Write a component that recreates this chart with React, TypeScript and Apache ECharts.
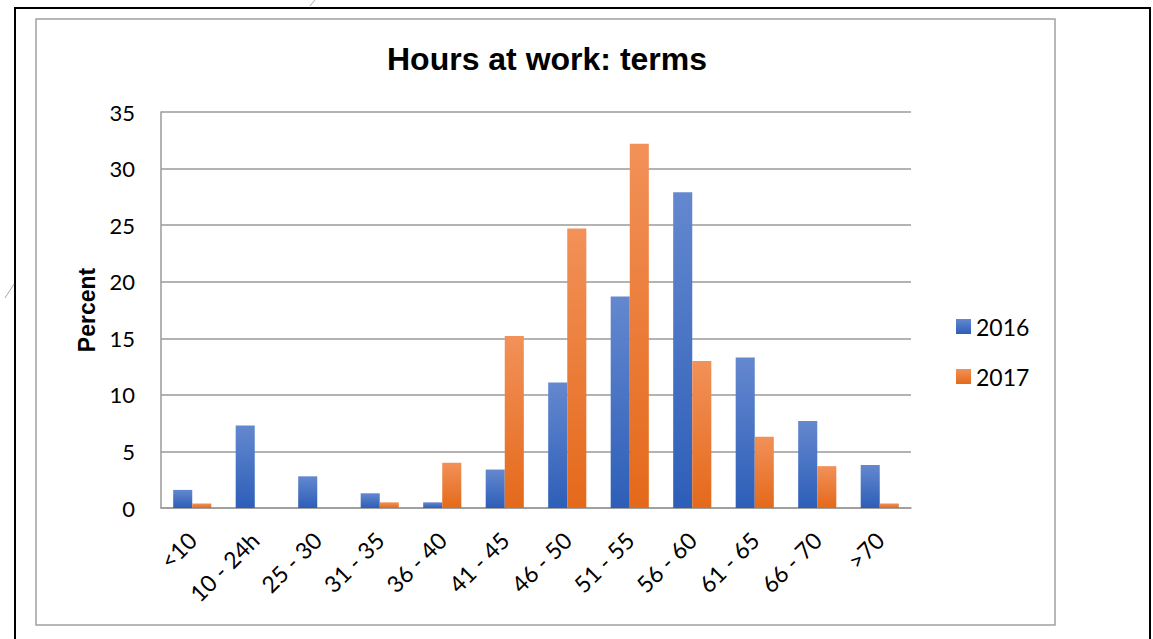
import React, { useEffect, useRef } from "react";
import * as echarts from "echarts";

const categories = ["<10", "10 - 24h", "25 - 30", "31 - 35", "36 - 40", "41 - 45", "46 - 50", "51 - 55", "56 - 60", "61 - 65", "66 - 70", ">70"];
const values2016 = [1.6, 7.3, 2.8, 1.3, 0.5, 3.4, 11.1, 18.7, 27.9, 13.3, 7.7, 3.8];
const values2017 = [0.4, 0, 0, 0.5, 4.0, 15.2, 24.7, 32.2, 13.0, 6.3, 3.7, 0.4];
const yTicks = [0, 5, 10, 15, 20, 25, 30, 35];

const blueGrad = new echarts.graphic.LinearGradient(0, 0, 0, 1, [
  { offset: 0, color: "#6488cf" },
  { offset: 1, color: "#2d5eb8" },
]);
const orangeGrad = new echarts.graphic.LinearGradient(0, 0, 0, 1, [
  { offset: 0, color: "#f29159" },
  { offset: 1, color: "#e4691a" },
]);

export default function App() {
  const ref = useRef<HTMLDivElement>(null);
  useEffect(() => {
    document.body.style.margin = "0";
    const chart = echarts.init(ref.current!, undefined, { renderer: "svg" });
    chart.setOption({
      animation: false,
      backgroundColor: "#ffffff",
      title: {
        text: "Hours at work: terms",
        left: 542,
        textAlign: "center",
        top: 38,
        textStyle: { fontFamily: "Liberation Sans", fontWeight: "bold", fontSize: 32, color: "#000" },
      },
      legend: {
        orient: "vertical",
        left: 951,
        top: 310,
        itemWidth: 15,
        itemHeight: 15,
        itemGap: 27,
        icon: "rect",
        textStyle: { fontFamily: "Lato", fontSize: 23, color: "#000" },
        data: ["2016", "2017"],
      },
      grid: { left: 161, right: 242, top: 112, bottom: 131 },
      xAxis: {
        type: "category",
        data: categories,
        axisLine: { lineStyle: { color: "#9a9a9a", width: 1.5 } },
        axisTick: { show: false },
        axisLabel: {
          rotate: 45,
          fontFamily: "Lato",
          fontSize: 23,
          color: "#000",
          margin: 28,
          interval: 0,
        },
      },
      yAxis: {
        type: "value",
        min: 0,
        max: 35,
        interval: 5,
        name: "Percent",
        nameLocation: "middle",
        nameGap: 60,
        nameRotate: 90,
        nameTextStyle: { fontFamily: "Liberation Sans", fontWeight: "bold", fontSize: 23, color: "#000" },
        axisLine: { show: true, lineStyle: { color: "#9a9a9a", width: 1.5 } },
        axisTick: { show: false },
        axisLabel: {
          fontFamily: "Lato",
          fontSize: 22,
          color: "#000",
          margin: 26,
          formatter: (v: number) => (yTicks.includes(v) ? String(v) : ""),
        },
        splitLine: { lineStyle: { color: "#9a9a9a", width: 1.5 } },
      },
      series: [
        {
          name: "2016",
          type: "bar",
          data: values2016,
          barGap: "0%",
          barCategoryGap: "39%",
          itemStyle: { color: blueGrad },
        },
        {
          name: "2017",
          type: "bar",
          data: values2017,
          itemStyle: { color: orangeGrad },
        },
      ],
      graphic: [
        { type: "rect", shape: { x: 15, y: 8, width: 1135, height: 700 }, style: { fill: "none", stroke: "#000", lineWidth: 2 }, silent: true, z: -1 },
        { type: "rect", shape: { x: 36, y: 19, width: 1019, height: 606 }, style: { fill: "none", stroke: "#a0a0a0", lineWidth: 1.5 }, silent: true, z: -1 },
        { type: "line", shape: { x1: 315, y1: 0, x2: 310, y2: 6 }, style: { stroke: "#aaa", lineWidth: 1 }, silent: true },
        { type: "line", shape: { x1: 14, y1: 284, x2: 5, y2: 298 }, style: { stroke: "#aaa", lineWidth: 1 }, silent: true },
      ],
    });
    return () => chart.dispose();
  }, []);
  return <div ref={ref} style={{ width: 1153, height: 639 }} />;
}
